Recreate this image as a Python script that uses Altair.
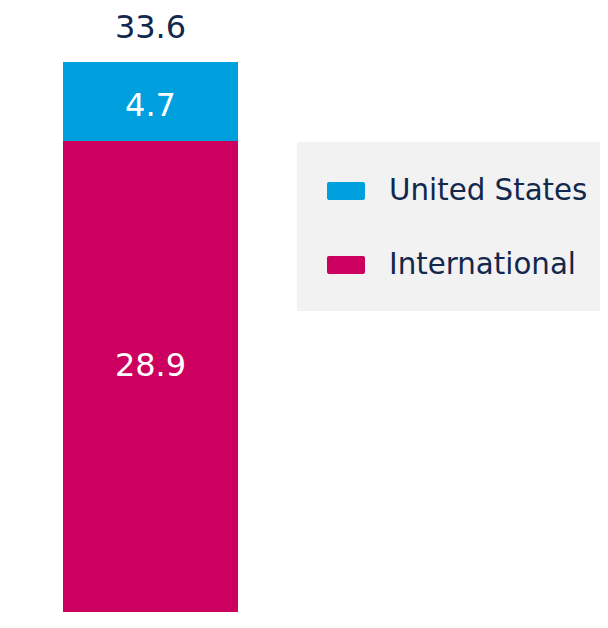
import altair as alt
import pandas as pd

# Data
regions = ["International", "United States"]
values = [28.9, 4.7]
stack_order = [1, 2]
bar_category = ["Revenue", "Revenue"]

legend_order = ["United States", "International"]
colors = ["#00A0DF", "#CC005F"]

NAVY = "#12284C"
FONT = "DejaVu Sans"

df = pd.DataFrame({"cat": bar_category, "region": regions, "value": values, "ord": stack_order})

x_enc = alt.X("cat:N", axis=None,
              scale=alt.Scale(range=[55, 230], paddingInner=0, paddingOuter=0))
# plot area spans y 8..612 on the page; 0 sits at 628, 33.6 at 62
y_scale = alt.Scale(domain=[0.95, 36.8], nice=False, zero=False)

symbol_path = ("M-0.9,-0.47 L0.9,-0.47 A0.1,0.1 0 0 1 1,-0.37 L1,0.37 "
               "A0.1,0.1 0 0 1 0.9,0.47 L-0.9,0.47 A0.1,0.1 0 0 1 -1,0.37 "
               "L-1,-0.37 A0.1,0.1 0 0 1 -0.9,-0.47 Z")

base = alt.Chart(df)

bars = base.mark_bar(clip=True).encode(
    x=x_enc,
    y=alt.Y("value:Q", stack="zero", scale=y_scale, axis=None),
    color=alt.Color(
        "region:N",
        scale=alt.Scale(domain=legend_order, range=colors),
        sort=legend_order,
        legend=alt.Legend(
            title=None, orient="none", legendX=289, legendY=134,
            fillColor="#F2F2F2", padding=30,
            symbolType=symbol_path, symbolSize=1444, symbolStrokeWidth=0,
            symbolOpacity=1,
            labelFont=FONT, labelFontSize=29.3, labelColor=NAVY,
            labelOffset=24, rowPadding=39, labelLimit=400,
        ),
    ),
    order=alt.Order("ord:Q"),
)

seg_base = base.transform_stack(
    stack="value", groupby=["cat"], as_=["v0", "v1"],
    sort=[alt.SortField("ord", order="ascending")],
).transform_calculate(mid="(datum.v0 + datum.v1) / 2")

us_label = seg_base.transform_filter(alt.datum.region == "United States").mark_text(
    color="white", font=FONT, fontSize=32, baseline="middle", dy=4
).encode(x=x_enc, y=alt.Y("mid:Q", scale=y_scale), text=alt.Text("value:Q", format=".1f"))

intl_label = seg_base.transform_filter(alt.datum.region == "International").mark_text(
    color="white", font=FONT, fontSize=32, baseline="middle", dy=-19
).encode(x=x_enc, y=alt.Y("mid:Q", scale=y_scale), text=alt.Text("value:Q", format=".1f"))

total_label = base.transform_aggregate(
    total="sum(value)", groupby=["cat"]
).mark_text(
    color=NAVY, font=FONT, fontSize=32, baseline="middle", dy=-34
).encode(x=x_enc, y=alt.Y("total:Q", scale=y_scale), text=alt.Text("total:Q", format=".1f"))

chart = alt.layer(bars, us_label, intl_label, total_label).properties(
    width=592, height=604, padding=0,
    autosize=alt.AutoSizeParams(type="none"),
).configure_view(stroke=None, strokeWidth=0)

chart.save("out.html", embed_options={"renderer": "svg", "actions": False})
